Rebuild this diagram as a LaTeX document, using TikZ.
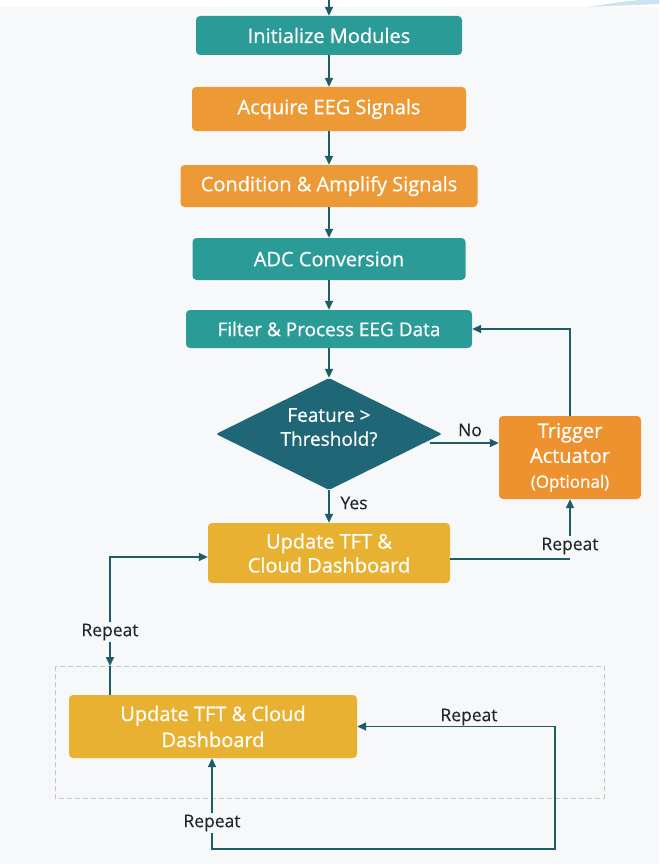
\documentclass[tikz,border=0pt]{standalone}
\usepackage{fontspec}
\setmainfont{Open Sans}
\newfontfamily\boxfont{Open Sans}[FakeBold=0.6]
\newfontfamily\lblfont{Open Sans}[FakeBold=0.25]
\usetikzlibrary{shapes.geometric,arrows.meta,calc}

\definecolor{bgpage}{RGB}{247,248,249}
\definecolor{tealbox}{RGB}{43,155,152}
\definecolor{orangebox}{RGB}{237,154,54}
\definecolor{actbox}{RGB}{238,146,47}
\definecolor{goldbox}{RGB}{233,177,50}
\definecolor{decbox}{RGB}{31,103,118}
\definecolor{linecol}{RGB}{31,93,102}
\definecolor{lbltext}{RGB}{30,38,40}
\definecolor{swoosh}{RGB}{205,228,240}

\tikzset{
  box/.style={rounded corners=4pt, text=white, align=center, inner sep=0pt,
    font=\boxfont\fontsize{20}{24}\selectfont},
  flow/.style={draw=linecol, line width=1.6pt, -{Triangle[length=9pt,width=8pt]}},
  plain/.style={draw=linecol, line width=1.6pt},
  lbl/.style={text=lbltext, inner sep=1pt, font=\lblfont\fontsize{17.5}{20}\selectfont}
}

\begin{document}
\begin{tikzpicture}[x=1pt,y=1pt,yscale=-1]
%page and margins
\fill[bgpage] (0,0) rectangle (659,864);
\useasboundingbox (0,0) rectangle (659,864);
\fill[white] (0,0) rectangle (659,7);
\fill[swoosh] (588,7) -- (659,4) -- (659,0) -- (640,0) .. controls (620,2) .. (588,7);

%Shape: dashed frame
\draw[gray!45, dashed, line width=1pt, dash pattern=on 5pt off 3pt] (55,666) rectangle (604,798);

%Boxes
\node[box, fill=tealbox, minimum width=266, minimum height=39] (init) at (329,35.5) {Initialize Modules};
\node[box, fill=orangebox, minimum width=274, minimum height=44] (acq) at (329,109) {Acquire EEG Signals};
\node[box, fill=orangebox, minimum width=297, minimum height=42] (cond) at (329,186) {Condition \& Amplify Signals};
\node[box, fill=tealbox, minimum width=273, minimum height=42] (adc) at (329,259) {ADC Conversion};
\node[box, fill=tealbox, minimum width=286, minimum height=38, font=\boxfont\fontsize{19}{24}\selectfont] (filt) at (329,329) {Filter \& Process EEG Data};
\node[box, fill=decbox, shape=diamond, aspect=2, rounded corners=2pt, minimum width=226, minimum height=112, font=\boxfont\fontsize{19}{24}\selectfont] (dec) at (329,434) {\raisebox{5pt}[\height][\depth]{\begin{tabular}{@{}c@{}}Feature >\\Threshold?\end{tabular}}};
\node[box, fill=actbox, minimum width=142, minimum height=83, font=\boxfont\fontsize{20}{25}\selectfont] (trig) at (570,457.5) {Trigger\\Actuator\\{\fontsize{17}{21}\selectfont (Optional)}};
\node[box, fill=goldbox, minimum width=242, minimum height=60] (upd) at (329,553) {Update TFT \&\\Cloud Dashboard};
\node[box, fill=goldbox, minimum width=288, minimum height=63, font=\boxfont\fontsize{20}{26}\selectfont] (upd2) at (213,726.5) {Update TFT \& Cloud\\Dashboard};

% Text Node
\node[lbl] (nolbl) at (470,430) {No};
\node[lbl] (yeslbl) at (354,503) {Yes};
\node[lbl] (rep1) at (570,546) {Repeat};
\node[lbl] (rep2) at (110,632) {Repeat};
\node[lbl] (rep3) at (469,717) {Repeat};
\node[lbl] (rep4) at (212,823) {Repeat};

%Coordinates
\coordinate (top) at (329,0);
\coordinate (nostart) at ($(dec.east)+(-12,9)$);
\coordinate (rcorner) at (570,559);
\coordinate (dtop) at (110,666);
\coordinate (rb) at (555,849);

%Straight Lines
\draw[flow] (top) -- (init.north);
\draw[flow] (init) -- (acq);
\draw[flow] (acq) -- (cond);
\draw[flow] (cond) -- (adc);
\draw[flow] (adc) -- (filt);
\draw[flow] (filt) -- (dec);
\draw[flow] (nostart) -- (nostart -| trig.west);
\draw[flow] (trig.north) |- (filt.east);
\draw[flow] (dec.south) -- (upd.north);
\draw[plain] (upd.east |- rcorner) -- (rcorner);
\draw[flow] (rep1.north) -- (trig.south);
\draw[flow] (rep2.north) |- ([yshift=4pt]upd.west);
\draw[flow] (rep2.south) -- (dtop);
\draw[plain] (dtop) -- (dtop |- upd2.north);
\draw[flow] (rep4.north) -- (rep4.north |- upd2.south);
\draw[flow] (rep4.south) |- (rb) |- (upd2.east);

\end{tikzpicture}
\end{document}
